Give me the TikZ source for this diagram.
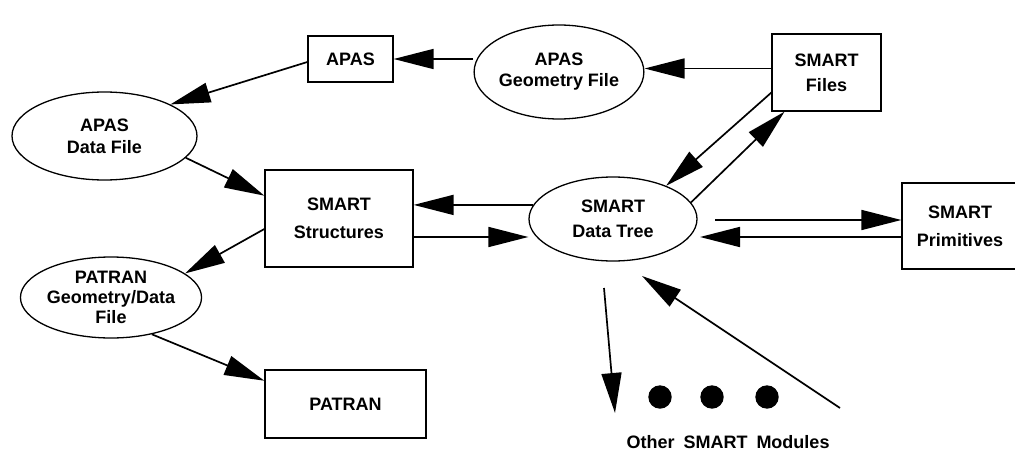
\documentclass[tikz,border=0pt]{standalone}
\usepackage{fontspec}
\setmainfont{Liberation Sans}
\usetikzlibrary{arrows.meta,shapes.geometric}
\begin{document}
\begin{tikzpicture}[x=1pt,y=-1pt,
  lbl/.style={font=\bfseries\fontsize{18}{25}\selectfont, align=center, inner sep=0pt},
  boxnode/.style={lbl, draw, line width=1.3pt, rectangle},
  ellnode/.style={lbl, draw, line width=1.3pt, ellipse},
  arr/.style={line width=1.7pt, -{Triangle[length=40pt,width=20pt]}},
  dotnode/.style={circle, fill=black, minimum size=23.4pt, inner sep=0pt},
]
\useasboundingbox (0,0) rectangle (1015,452);
% nodes
\node[boxnode, minimum width=85pt, minimum height=46pt] (apas) at (350.5,59) {APAS};
\node[ellnode, minimum width=162pt, minimum height=94pt, font=\bfseries\fontsize{18}{21}\selectfont] (geo) at (559,72) {APAS\\Geometry File};
\node[boxnode, minimum width=109pt, minimum height=77pt] (files) at (826.5,72.5) {SMART\\Files};
\node[ellnode, minimum width=185pt, minimum height=88pt, font=\bfseries\fontsize{18}{22}\selectfont] (adf) at (104.5,136) {APAS\\Data File};
\node[boxnode, minimum width=148pt, minimum height=97pt, font=\bfseries\fontsize{18}{28}\selectfont] (str) at (339,218.5) {SMART\\Structures};
\node[ellnode, minimum width=168pt, minimum height=84pt] (tree) at (613,219) {SMART\\Data Tree};
\node[boxnode, minimum width=116pt, minimum height=86pt, font=\bfseries\fontsize{18}{28}\selectfont] (prim) at (960,226) {SMART\\Primitives};
\node[ellnode, minimum width=172pt, minimum height=81pt, font=\bfseries\fontsize{18}{20}\selectfont] (pgd) at (111,297.5) {PATRAN\\Geometry/Data\\File};
\node[boxnode, minimum width=161pt, minimum height=68pt] (patran) at (345.5,404) {PATRAN};
\node[dotnode] (d1) at (660,397) {};
\node[dotnode] (d2) at (712,397) {};
\node[dotnode] (d3) at (767,397) {};
\node[lbl, anchor=base] (other) at (728,448.5) {Other\hspace{0.5em}SMART\hspace{0.5em}Modules};
% free ends
\coordinate (s11) at (715,220);
\coordinate (e12) at (700,237);
\coordinate (s13) at (604,288);
\coordinate (e13) at (615,413);
\coordinate (s14) at (840,408);
\coordinate (e14) at (642,276);
% connectors
\draw[arr] ([yshift=4pt]files.west) -- ([yshift=4pt]files.west -| geo.east);
\draw[arr] (apas.east -| geo.west) -- (apas.east);
\draw[arr] ([yshift=-3pt]apas.west) -- (adf.north east);
\draw[arr] (adf.-15) -- (str.163);
\draw[arr] (tree.170) -- (tree.170 -| str.east);
\draw[arr] ([yshift=-18pt]tree.west -| str.east) -- ([yshift=-18pt]tree.west);
\draw[arr] (str.188) -- (pgd.18);
\draw[arr] (pgd.-42) -- (patran.164);
\draw[arr] (files.200) -- (tree.32);
\draw[arr] (tree.12) -- (files.-137);
\draw[arr] (s11) -- (s11 -| prim.west);
\draw[arr] (prim.west |- e12) -- (e12);
\draw[arr] (s13) -- (e13);
\draw[arr] (s14) -- (e14);
\end{tikzpicture}
\end{document}
